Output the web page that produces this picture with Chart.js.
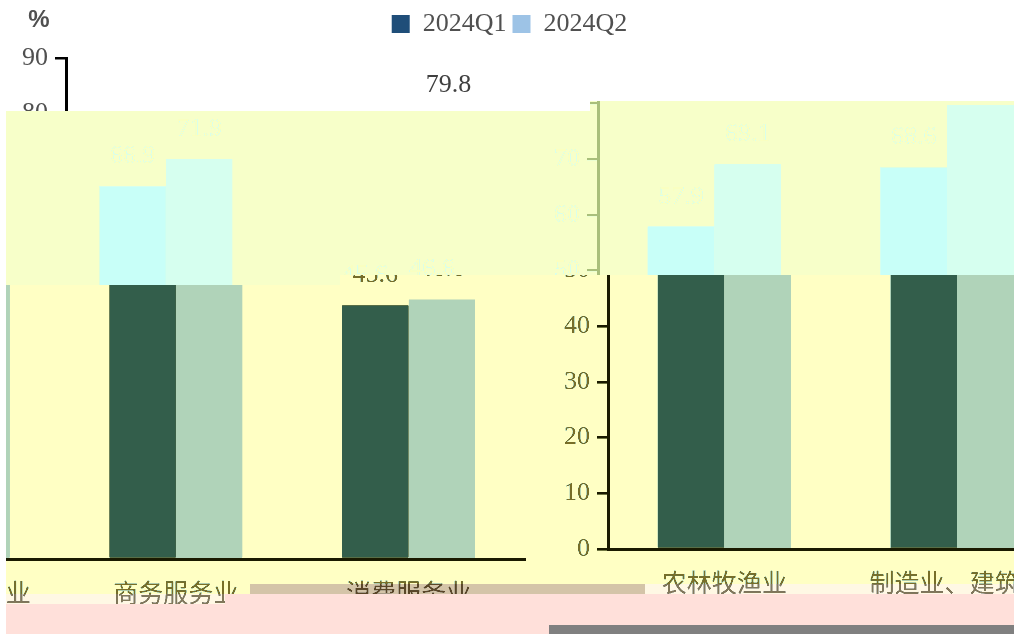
<!DOCTYPE html>
<html>
<head>
<meta charset="utf-8">
<style>
  html, body { margin: 0; padding: 0; background: #fff; }
  canvas { display: block; }
</style>
<script src="https://cdn.jsdelivr.net/npm/chart.js@4"></script>
</head>
<body>
<canvas id="c" width="1014" height="634"></canvas>
<script>
const categories = ['农林牧渔业', '制造业、建筑业', '商务服务业', '消费服务业'];
const seriesNames = ['2024Q1', '2024Q2'];
const q1 = [57.9, 68.6, 66.9, 45.6];
const q2 = [69.1, 79.8, 71.9, 46.6];

const serif = "'Liberation Serif', 'Times New Roman', 'Noto Sans CJK SC', serif";
const DARK = '#1f4e79', LIGHT = '#9dc3e6', TEXT = '#505050';

// source colours of the clean chart, and what each band turns them into
const anchors = [[255,255,255], [31,78,121], [157,195,230], [80,80,80], [0,0,0]];
const PALE = [[247,255,201], [200,255,248], [214,255,239], [251,255,192], [169,191,123]];
const YELLOW = [[255,255,196], [51,94,75], [176,211,185], [120,110,40], [26,26,0]];
const TAN = [[212,196,168], [60,60,40], [170,160,140], [90,70,40], [40,30,10]];
const CREAM = [[255,248,228], [80,80,80], [180,180,170], [130,120,90], [50,50,40]];
const solid = c => anchors.map(() => c);
const PINK = solid([255,224,218]), GREY = solid([128,128,128]), WHITE = solid([255,255,255]);

// [x0, x1, y0, y1, source dx, source dy, palette]; later rows win
const bands = [
  [0, 1014, 0, 111, 0, -10, null],
  [590, 1014, 101, 111, -532, 0, PALE],
  [6, 532, 111, 275, 482, -10, PALE],
  [6, 340, 275, 285, 482, -10, PALE],
  [532, 1014, 111, 275, -532, 0, PALE],
  [340, 542, 275, 285, 472, -10, YELLOW],
  [6, 542, 285, 584, 472, -10, YELLOW],
  [542, 1014, 275, 584, -542, 0, YELLOW],
  [6, 250, 584, 594, 472, -10, YELLOW],
  [250, 542, 584, 594, 472, -10, TAN],
  [542, 645, 584, 594, -542, 0, TAN],
  [645, 1014, 584, 594, -542, 0, CREAM],
  [6, 1014, 594, 634, 0, 0, PINK],
  [6, 225, 594, 604, 472, -10, CREAM],
  [549, 1014, 625, 634, 0, 0, GREY],
  [0, 6, 111, 634, 0, 0, WHITE]
];

function remap(r, g, b, palette) {
  let sum = 0, out = [0, 0, 0];
  for (let i = 0; i < anchors.length; i++) {
    const a = anchors[i];
    const d = (r-a[0])*(r-a[0]) + (g-a[1])*(g-a[1]) + (b-a[2])*(b-a[2]);
    if (d === 0) return palette[i];
    const w = 1 / (d * d);
    sum += w;
    out[0] += w * palette[i][0]; out[1] += w * palette[i][1]; out[2] += w * palette[i][2];
  }
  return [out[0]/sum, out[1]/sum, out[2]/sum];
}

function damage(chart) {
  const ctx = chart.ctx, W = chart.width, H = chart.height;
  const src = ctx.getImageData(0, 0, W, H);
  const dst = ctx.createImageData(W, H);
  dst.data.fill(255);
  for (const [x0, x1, y0, y1, dx, dy, palette] of bands) {
    for (let y = y0; y < y1; y++) {
      for (let x = x0; x < x1; x++) {
        const sx = x + dx, sy = y + dy;
        let c = [255, 255, 255];
        if (sx >= 0 && sx < W && sy >= 0 && sy < H) {
          const p = (sy * W + sx) * 4;
          c = [src.data[p], src.data[p+1], src.data[p+2]];
        }
        if (palette) c = remap(c[0], c[1], c[2], palette);
        const q = (y * W + x) * 4;
        dst.data[q] = c[0]; dst.data[q+1] = c[1]; dst.data[q+2] = c[2]; dst.data[q+3] = 255;
      }
    }
  }
  ctx.putImageData(dst, 0, 0);
}

const chartPlugin = {
  id: 'extras',
  beforeLayout(chart) {
    // legend box has to reach down to the top of the plot
    const lg = chart.legend;
    if (lg && !lg._wrapped) {
      const fit = lg.fit;
      lg.fit = function () { fit.call(this); this.height = 53; };
      lg._wrapped = true;
    }
  },
  afterLayout(chart) {
    // centred on the page, not on the plot
    chart.legend.left += 11;
    chart.legend.right += 11;
  },
  beforeDraw(chart) {
    const ctx = chart.ctx;
    ctx.save();
    ctx.fillStyle = '#fff';
    ctx.fillRect(0, 0, chart.width, chart.height);
    ctx.restore();
  },
  afterDatasetsDraw(chart) {
    const ctx = chart.ctx;
    ctx.save();
    ctx.font = '26px ' + serif;
    ctx.fillStyle = '#404040';
    ctx.textAlign = 'center';
    ctx.textBaseline = 'middle';
    chart.data.datasets.forEach((ds, i) => {
      chart.getDatasetMeta(i).data.forEach((bar, j) => {
        ctx.fillText(ds.data[j].toFixed(1), bar.x, bar.y - 30);
      });
    });
    ctx.font = "bold 24px 'Liberation Sans', sans-serif";
    ctx.fillStyle = TEXT;
    ctx.fillText('%', 39, 10);
    ctx.restore();
  },
  afterRender(chart) {
    if (!chart._damaged) { chart._damaged = true; damage(chart); }
  }
};

new Chart(document.getElementById('c'), {
  type: 'bar',
  data: {
    labels: categories,
    datasets: [
      { label: seriesNames[0], data: q1, backgroundColor: DARK },
      { label: seriesNames[1], data: q2, backgroundColor: LIGHT }
    ]
  },
  options: {
    responsive: false,
    animation: false,
    layout: { padding: { top: -5, right: 17, left: 0, bottom: 0 } },
    datasets: { bar: { categoryPercentage: 0.572, barPercentage: 1 } },
    plugins: {
      tooltip: { enabled: false },
      legend: {
        position: 'top',
        labels: { boxWidth: 18, boxHeight: 18, padding: 6, color: TEXT, font: { family: serif, size: 26 } }
      }
    },
    scales: {
      x: {
        afterFit(s) { s.height = 85; },
        grid: { display: false, drawTicks: false },
        border: { color: '#000', width: 3 },
        ticks: { padding: 21, color: TEXT, font: { family: serif, size: 25 }, maxRotation: 0, autoSkip: false }
      },
      y: {
        min: 0, max: 90,
        afterFit(s) { s.width = 66; },
        grid: { drawOnChartArea: false, color: '#000', lineWidth: 2.5, tickLength: 11 },
        border: { color: '#000', width: 3 },
        ticks: { stepSize: 10, padding: 7, color: TEXT, font: { family: serif, size: 26 } }
      }
    }
  },
  plugins: [chartPlugin]
});
</script>
</body>
</html>
